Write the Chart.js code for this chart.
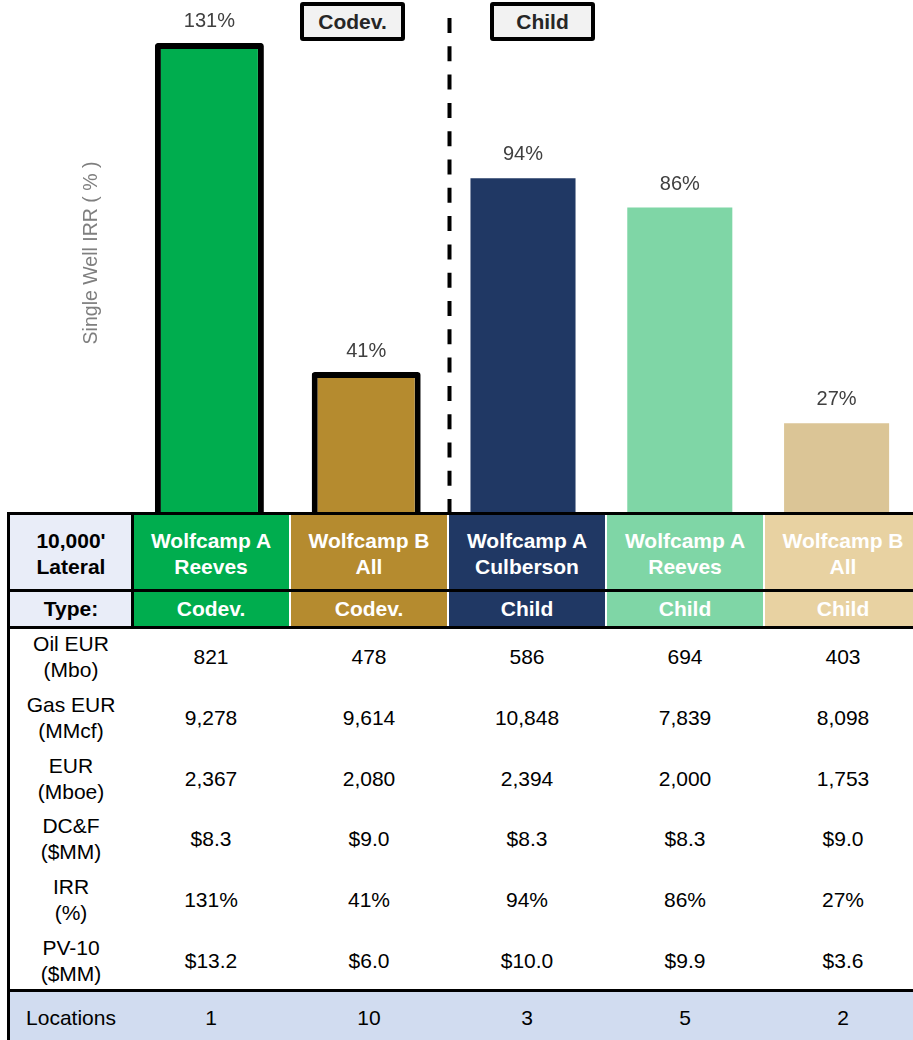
<!DOCTYPE html>
<html>
<head>
<meta charset="utf-8">
<script src="https://cdn.jsdelivr.net/npm/chart.js@4.4.1/dist/chart.umd.min.js"></script>
<style>
html,body{margin:0;padding:0;width:913px;height:1040px;overflow:hidden;background:#fff;font-family:"Liberation Sans",Arial,sans-serif;}
#wrap{position:absolute;left:0;top:0;width:920px;height:540px;}
.cell{position:absolute;display:flex;align-items:center;justify-content:center;text-align:center;font-size:21px;line-height:26px;color:#000;box-sizing:border-box;white-space:nowrap;}
.line{position:absolute;background:#000;}
.tag{position:absolute;top:2px;width:105px;height:39px;box-sizing:border-box;border:4.5px solid #000;border-radius:3px;background:#f2f2f2;font-weight:bold;font-size:21px;color:#262626;display:flex;align-items:center;justify-content:center;}
</style>
</head>
<body>
<div id="wrap"><canvas id="c"></canvas></div>
<div id="tbl"></div>
<div class="tag" style="left:300px;">Codev.</div>
<div class="tag" style="left:490px;">Child</div>
<script>
// ---- data ----
const formationLine1 = ['Wolfcamp A', 'Wolfcamp B', 'Wolfcamp A', 'Wolfcamp A', 'Wolfcamp B'];
const formationLine2 = ['Reeves', 'All', 'Culberson', 'Reeves', 'All'];
const wellType = ['Codev.', 'Codev.', 'Child', 'Child', 'Child'];
const irr = [131, 41, 94, 86, 27];
const oilEUR = [821, 478, 586, 694, 403];
const gasEUR = [9278, 9614, 10848, 7839, 8098];
const eurMboe = [2367, 2080, 2394, 2000, 1753];
const dcf = [8.3, 9.0, 8.3, 8.3, 9.0];
const pv10 = [13.2, 6.0, 10.0, 9.9, 3.6];
const locations = [1, 10, 3, 5, 2];
const rowLabels = [['Oil EUR', '(Mbo)'], ['Gas EUR', '(MMcf)'], ['EUR', '(Mboe)'], ['DC&F', '($MM)'], ['IRR', '(%)'], ['PV-10', '($MM)']];
const yTitle = 'Single Well IRR ( % )';

// ---- styles ----
const barColors = ['#00AD4E', '#B58B2F', '#203864', '#7FD6A6', '#DBC596'];
const headColors = ['#00AD4E', '#B58B2F', '#203864', '#7FD6A6', '#E8D2A2'];
const categories = formationLine1.map((a, i) => a + ' ' + formationLine2[i]);

const fmtInt = v => v.toLocaleString('en-US');
const fmtMoney = v => '$' + v.toFixed(1);
const fmtPct = v => v + '%';
const tableRows = [oilEUR.map(fmtInt), gasEUR.map(fmtInt), eurMboe.map(fmtInt), dcf.map(fmtMoney), irr.map(fmtPct), pv10.map(fmtMoney)];

// ---- chart ----
const FONT = '"Liberation Sans", Arial, sans-serif';
const labelPlugin = {
  id: 'vals',
  afterDatasetsDraw(chart) {
    const ctx = chart.ctx;
    ctx.save();
    ctx.font = '20px ' + FONT;
    ctx.fillStyle = '#404040';
    ctx.textAlign = 'center';
    ctx.textBaseline = 'middle';
    chart.data.datasets.forEach((ds, di) => {
      const meta = chart.getDatasetMeta(di);
      meta.data.forEach((bar, i) => {
        const v = ds.data[i];
        if (v === null || v === undefined) return;
        const off = ds.borderWidth ? 21 : 23.5;
        ctx.fillText(v + '%', bar.x, bar.y - off);
      });
    });
    ctx.restore();
  }
};
const decoPlugin = {
  id: 'deco',
  afterDraw(chart) {
    const ctx = chart.ctx;
    ctx.save();
    // divider between Codev. and Child
    ctx.strokeStyle = '#000';
    ctx.lineWidth = 4;
    ctx.setLineDash([15, 13.3]);
    ctx.beginPath();
    ctx.moveTo(449.5, 18);
    ctx.lineTo(449.5, 513);
    ctx.stroke();
    ctx.setLineDash([]);
    // y title
    ctx.translate(92, 253);
    ctx.rotate(-Math.PI / 2);
    ctx.font = '19.5px ' + FONT;
    ctx.fillStyle = '#7F7F7F';
    ctx.textAlign = 'center';
    ctx.textBaseline = 'middle';
    ctx.fillText(yTitle, 0, 0);
    ctx.restore();
  }
};

new Chart(document.getElementById('c'), {
  type: 'bar',
  data: {
    labels: categories,
    datasets: [
      {
        data: irr.map((v, i) => wellType[i] === 'Codev.' ? v : null),
        backgroundColor: barColors,
        borderColor: '#000',
        borderWidth: 6,
        borderSkipped: 'start',
        borderRadius: 3,
        barPercentage: 0.695,
        categoryPercentage: 1,
        grouped: false
      },
      {
        data: irr.map((v, i) => wellType[i] === 'Child' ? v : null),
        backgroundColor: barColors,
        borderWidth: 0,
        barPercentage: 0.67,
        categoryPercentage: 1,
        grouped: false
      }
    ]
  },
  options: {
    responsive: true,
    maintainAspectRatio: false,
    animation: false,
    layout: { padding: { left: 131, right: 5, top: 10, bottom: 18 } },
    scales: {
      x: { display: false },
      y: { display: false, min: 0, max: 140 }
    },
    plugins: { legend: { display: false }, tooltip: { enabled: false } }
  },
  plugins: [labelPlugin, decoPlugin]
});

// ---- table ----
const tbl = document.getElementById('tbl');
const COLX = [10, 132, 290, 448, 606, 764, 922];
function cell(x, y, w, h, html, style) {
  const d = document.createElement('div');
  d.className = 'cell';
  d.style.left = x + 'px'; d.style.top = y + 'px';
  d.style.width = w + 'px'; d.style.height = h + 'px';
  d.innerHTML = html;
  Object.assign(d.style, style || {});
  tbl.appendChild(d);
  return d;
}
function line(x, y, w, h, color) {
  const d = document.createElement('div');
  d.className = 'line';
  d.style.left = x + 'px'; d.style.top = y + 'px';
  d.style.width = w + 'px'; d.style.height = h + 'px';
  if (color) d.style.background = color;
  tbl.appendChild(d);
}
const esc = s => s.replace(/&/g, '&amp;');
// header rows
cell(COLX[0], 513, COLX[1] - COLX[0], 77, "10,000'<br>Lateral", { background: '#E9EDF8', fontWeight: 'bold', paddingTop: '4px' });
cell(COLX[0], 590, COLX[1] - COLX[0], 36, 'Type:', { background: '#E9EDF8', fontWeight: 'bold', paddingTop: '2px' });
for (let i = 0; i < 5; i++) {
  const x = COLX[i + 1], w = COLX[i + 2] - COLX[i + 1];
  cell(x, 513, w, 77, formationLine1[i] + '<br>' + formationLine2[i], { background: headColors[i], color: '#fff', fontWeight: 'bold', paddingTop: '4px' });
  cell(x, 590, w, 36, wellType[i], { background: headColors[i], color: '#fff', fontWeight: 'bold', paddingTop: '2px' });
}
// data rows
const RH = 60.67;
for (let r = 0; r < rowLabels.length; r++) {
  const y = 626 + r * RH;
  cell(COLX[0], y, COLX[1] - COLX[0], RH, esc(rowLabels[r][0]) + '<br>' + esc(rowLabels[r][1]), { paddingTop: '2px' });
  for (let i = 0; i < 5; i++) {
    cell(COLX[i + 1], y, COLX[i + 2] - COLX[i + 1], RH, tableRows[r][i], { paddingTop: '2px' });
  }
}
// locations
cell(COLX[0], 990, COLX[6] - COLX[0], 56, '', { background: '#D1DCF0' });
cell(COLX[0], 990, COLX[1] - COLX[0], 56, 'Locations', {});
for (let i = 0; i < 5; i++) {
  cell(COLX[i + 1], 990, COLX[i + 2] - COLX[i + 1], 56, String(locations[i]), {});
}
// lines
for (let i = 2; i <= 5; i++) line(COLX[i] - 0.75, 515, 1.5, 111, '#fff');
line(7, 512, 930, 3);
line(7, 589, 930, 3);
line(7, 625.5, 930, 3);
line(7, 989, 930, 3);
line(7, 512, 3, 540);
line(130.5, 512, 3, 116);
</script>
</body>
</html>
